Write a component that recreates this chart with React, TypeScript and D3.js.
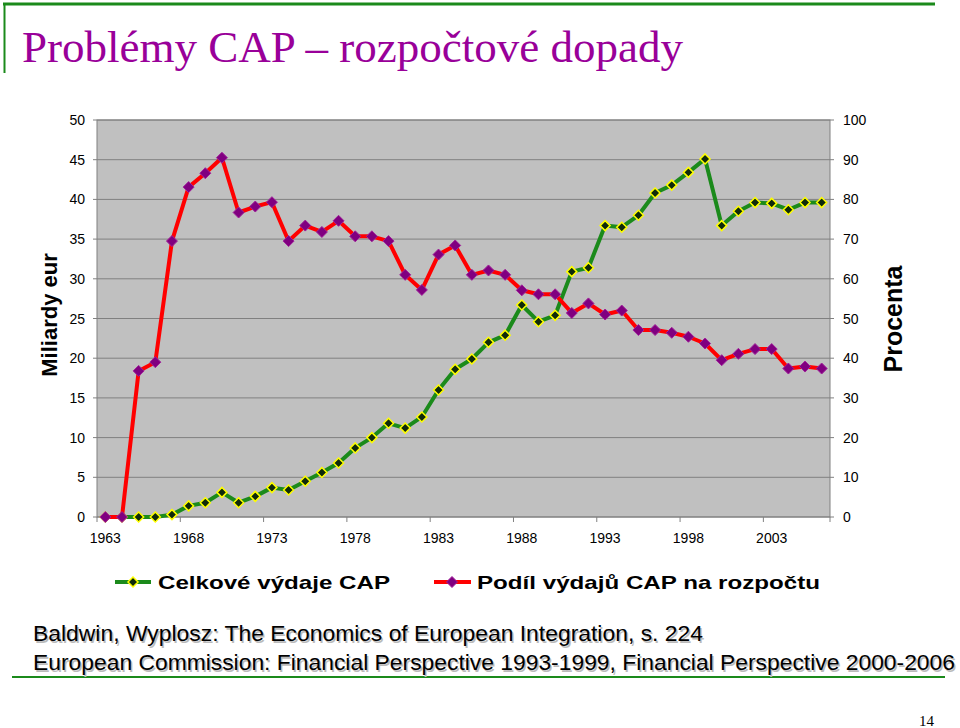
import React from "react";
import * as d3 from "d3";

const years: number[] = d3.range(1963, 2007);
const spending: number[] = [
  0, 0, 0, 0, 0.3, 1.4, 1.8, 3.1, 1.8, 2.6, 3.7, 3.4, 4.5, 5.6, 6.8, 8.7, 10.0, 11.8, 11.2, 12.6,
  16.0, 18.6, 19.9, 22.0, 22.9, 26.7, 24.6, 25.4, 30.9, 31.4, 36.7, 36.5, 38.0, 40.8, 41.8, 43.4,
  45.1, 36.7, 38.5, 39.6, 39.5, 38.7, 39.6, 39.6,
];
const share: number[] = [
  0, 0, 36.8, 39.0, 69.5, 83.1, 86.6, 90.5, 76.7, 78.2, 79.3, 69.5, 73.4, 71.8, 74.6, 70.7, 70.7,
  69.5, 61.0, 57.2, 66.1, 68.4, 61.0, 62.1, 61.0, 57.1, 56.1, 56.1, 51.4, 53.8, 51.0, 52.0, 47.1,
  47.1, 46.4, 45.4, 43.7, 39.5, 41.1, 42.3, 42.3, 37.4, 37.9, 37.4,
];
const leftTicks: number[] = [0, 5, 10, 15, 20, 25, 30, 35, 40, 45, 50];
const rightTicks: number[] = [0, 10, 20, 30, 40, 50, 60, 70, 80, 90, 100];
const xLabelYears: number[] = [1963, 1968, 1973, 1978, 1983, 1988, 1993, 1998, 2003];

const title = "Problémy CAP – rozpočtové dopady";
const leftAxisTitle = "Miliardy eur";
const rightAxisTitle = "Procenta";
const seriesNames = ["Celkové výdaje CAP", "Podíl výdajů CAP na rozpočtu"];
const source1 = "Baldwin, Wyplosz: The Economics of European Integration, s. 224";
const source2 =
  "European Commission: Financial Perspective 1993-1999, Financial Perspective 2000-2006";
const pageNo = "14";

const SANS = "'Liberation Sans', Arial, sans-serif";
const SERIF = "'Liberation Serif', 'Times New Roman', serif";

const GREEN = "#1b8a1b";
const RED = "#ff0000";

function diamond(cx: number, cy: number, r: number) {
  return `M${cx},${cy - r}L${cx + r},${cy}L${cx},${cy + r}L${cx - r},${cy}Z`;
}

export default function App() {
  const L = 97,
    R = 830,
    T = 120,
    B = 517;
  const x = d3.scaleBand<number>().domain(years).range([L, R]).padding(0);
  const bw = x.bandwidth();
  const cx = (yr: number) => (x(yr) as number) + bw / 2;
  const yL = d3.scaleLinear().domain([0, 50]).range([B, T]);
  const yR = d3.scaleLinear().domain([0, 100]).range([B, T]);

  const greenLine = d3
    .line<number>()
    .x((_, i) => cx(years[i]))
    .y((d) => yL(d))(spending) as string;
  const redLine = d3
    .line<number>()
    .x((_, i) => cx(years[i]))
    .y((d) => yR(d))(share) as string;

  const xTickIdx = [0, 5, 10, 15, 20, 25, 30, 35, 40, 44];

  return (
    <div style={{ position: "absolute", left: 0, top: 0, width: 960, height: 728, background: "#fff" }}>
      <svg width={960} height={728} style={{ display: "block" }}>
        {/* decorative frame lines */}
        <line x1={3} y1={4} x2={935} y2={4} stroke={GREEN} strokeWidth={3} />
        <line x1={4.5} y1={3} x2={4.5} y2={73} stroke={GREEN} strokeWidth={2} />
        <line x1={12} y1={677} x2={945} y2={677} stroke={GREEN} strokeWidth={2} />

        <text
          x={22}
          y={62}
          fontFamily={SERIF}
          fontSize={44}
          fill="#990099"
          textLength={661}
          lengthAdjust="spacingAndGlyphs"
        >
          {title}
        </text>

        {/* plot area */}
        <rect x={L} y={T} width={R - L} height={B - T} fill="#c0c0c0" stroke="#808080" strokeWidth={1} />
        {leftTicks.map((t) => (
          <line key={"g" + t} x1={L} x2={R} y1={yL(t)} y2={yL(t)} stroke="#808080" strokeWidth={1} />
        ))}
        {/* left axis ticks & labels */}
        {leftTicks.map((t) => (
          <g key={"l" + t}>
            <line x1={L - 4} x2={L} y1={yL(t)} y2={yL(t)} stroke="#808080" />
            <text x={85} y={yL(t) + 5} textAnchor="end" fontFamily={SANS} fontSize={14} fill="#000">
              {t}
            </text>
          </g>
        ))}
        {rightTicks.map((t) => (
          <g key={"r" + t}>
            <line x1={R} x2={R + 4} y1={yR(t)} y2={yR(t)} stroke="#808080" />
            <text x={843} y={yR(t) + 5} textAnchor="start" fontFamily={SANS} fontSize={14} fill="#000">
              {t}
            </text>
          </g>
        ))}
        {/* x axis ticks & labels */}
        {xTickIdx.map((i) => {
          const xx = i < years.length ? (x(years[i]) as number) : R;
          return <line key={"xt" + i} x1={xx} x2={xx} y1={B} y2={B + 5} stroke="#808080" />;
        })}
        {xLabelYears.map((yr) => (
          <text key={"xl" + yr} x={cx(yr)} y={543} textAnchor="middle" fontFamily={SANS} fontSize={14} fill="#000">
            {yr}
          </text>
        ))}

        {/* axis titles */}
        <text
          transform={`translate(57,315) rotate(-90)`}
          textAnchor="middle"
          fontFamily={SANS}
          fontWeight="bold"
          fontSize={22}
          fill="#000"
        >
          {leftAxisTitle}
        </text>
        <text
          transform={`translate(902,319) rotate(-90)`}
          textAnchor="middle"
          fontFamily={SANS}
          fontWeight="bold"
          fontSize={25}
          fill="#000"
        >
          {rightAxisTitle}
        </text>

        {/* series */}
        <path d={greenLine} fill="none" stroke={GREEN} strokeWidth={4} strokeLinejoin="round" />
        {spending.map((v, i) => (
          <path key={"gm" + i} d={diamond(cx(years[i]), yL(v), 5)} fill="#0f2a0a" stroke="#ffff00" strokeWidth={1.5} />
        ))}
        <path d={redLine} fill="none" stroke={RED} strokeWidth={4} strokeLinejoin="round" />
        {share.map((v, i) => (
          <path key={"rm" + i} d={diamond(cx(years[i]), yR(v), 5.5)} fill="#800080" stroke="#a0209a" strokeWidth={1} />
        ))}

        {/* legend */}
        <line x1={115} x2={151} y1={582} y2={582} stroke={GREEN} strokeWidth={4} />
        <path d={diamond(133, 582, 5)} fill="#0f2a0a" stroke="#ffff00" strokeWidth={1.5} />
        <text x={158} y={589} fontFamily={SANS} fontWeight="bold" fontSize={19} fill="#000" textLength={232} lengthAdjust="spacingAndGlyphs">
          {seriesNames[0]}
        </text>
        <line x1={434} x2={471} y1={582} y2={582} stroke={RED} strokeWidth={4} />
        <path d={diamond(452, 582, 5.5)} fill="#800080" stroke="#a0209a" strokeWidth={1} />
        <text x={477} y={589} fontFamily={SANS} fontWeight="bold" fontSize={19} fill="#000" textLength={343} lengthAdjust="spacingAndGlyphs">
          {seriesNames[1]}
        </text>

        {/* sources */}
        <text x={34.5} y={642.5} fontFamily={SANS} fontSize={22} fill="#bbbbbb" textLength={670} lengthAdjust="spacingAndGlyphs">
          {source1}
        </text>
        <text x={33} y={641} fontFamily={SANS} fontSize={22} fill="#000" textLength={670} lengthAdjust="spacingAndGlyphs">
          {source1}
        </text>
        <text x={34.5} y={671.5} fontFamily={SANS} fontSize={22} fill="#bbbbbb" textLength={922} lengthAdjust="spacingAndGlyphs">
          {source2}
        </text>
        <text x={33} y={670} fontFamily={SANS} fontSize={22} fill="#000" textLength={922} lengthAdjust="spacingAndGlyphs">
          {source2}
        </text>

        <text x={934} y={726} textAnchor="end" fontFamily={SERIF} fontSize={15} fill="#000">
          {pageNo}
        </text>
      </svg>
    </div>
  );
}
